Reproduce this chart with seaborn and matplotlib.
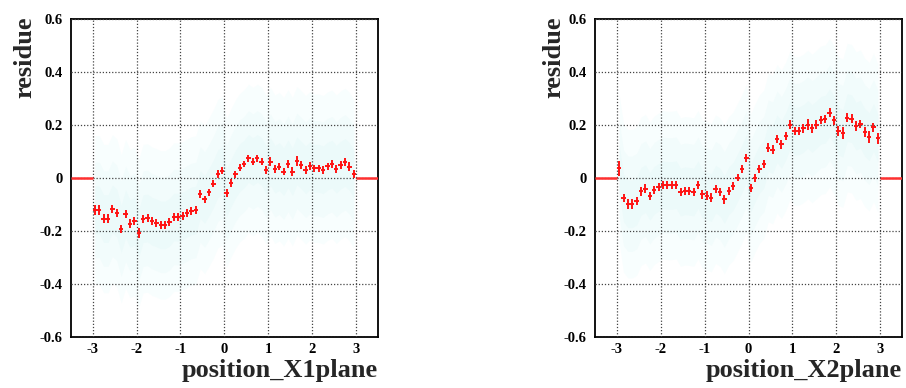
import numpy as np
import matplotlib
matplotlib.use("Agg")
import matplotlib.pyplot as plt
import seaborn as sns
import pandas as pd
from matplotlib.ticker import MultipleLocator

# ---------------- data ----------------
x_min, x_max, n_bins = -3.5, 3.5, 70
filled_lo, filled_hi = -3.0, 3.0

residue_X1 = [-0.122, -0.122, -0.155, -0.155, -0.118, -0.134, -0.194, -0.137, -0.174, -0.165,
              -0.210, -0.155, -0.153, -0.165, -0.171, -0.179, -0.179, -0.169, -0.149, -0.150,
              -0.145, -0.135, -0.126, -0.123, -0.064, -0.083, -0.055, -0.024, 0.014, 0.026,
              -0.058, -0.021, 0.012, 0.037, 0.051, 0.072, 0.060, 0.072, 0.060, 0.029,
              0.060, 0.031, 0.041, 0.022, 0.051, 0.022, 0.063, 0.047, 0.029, 0.045,
              0.035, 0.035, 0.029, 0.043, 0.050, 0.031, 0.047, 0.057, 0.041, 0.012]
error_X1 = [0.020, 0.018, 0.018, 0.018, 0.016, 0.015, 0.016, 0.015, 0.016, 0.015,
            0.020, 0.015, 0.016, 0.015, 0.015, 0.016, 0.015, 0.015, 0.015, 0.015,
            0.015, 0.015, 0.015, 0.015, 0.015, 0.015, 0.013, 0.013, 0.015, 0.013,
            0.015, 0.015, 0.013, 0.013, 0.013, 0.013, 0.013, 0.013, 0.013, 0.015,
            0.016, 0.015, 0.013, 0.013, 0.015, 0.016, 0.018, 0.015, 0.015, 0.015,
            0.013, 0.013, 0.015, 0.013, 0.016, 0.015, 0.016, 0.015, 0.016, 0.015]

residue_X2 = [0.035, -0.077, -0.099, -0.099, -0.089, -0.052, -0.042, -0.071, -0.048, -0.037,
              -0.027, -0.030, -0.030, -0.027, -0.055, -0.050, -0.052, -0.055, -0.027, -0.064,
              -0.068, -0.076, -0.044, -0.055, -0.083, -0.050, -0.033, 0.000, 0.033, 0.072,
              -0.040, -0.002, 0.032, 0.050, 0.113, 0.105, 0.146, 0.125, 0.156, 0.200,
              0.175, 0.176, 0.185, 0.200, 0.185, 0.200, 0.216, 0.220, 0.245, 0.216,
              0.175, 0.167, 0.226, 0.222, 0.194, 0.201, 0.170, 0.154, 0.189, 0.148]
error_X2 = [0.028, 0.016, 0.018, 0.018, 0.015, 0.016, 0.018, 0.015, 0.016, 0.015,
            0.015, 0.015, 0.015, 0.015, 0.016, 0.016, 0.015, 0.015, 0.015, 0.016,
            0.016, 0.016, 0.016, 0.016, 0.016, 0.016, 0.015, 0.015, 0.015, 0.015,
            0.015, 0.015, 0.015, 0.015, 0.016, 0.016, 0.016, 0.016, 0.016, 0.016,
            0.016, 0.016, 0.016, 0.019, 0.016, 0.016, 0.015, 0.015, 0.018, 0.016,
            0.020, 0.023, 0.018, 0.016, 0.018, 0.015, 0.019, 0.023, 0.018, 0.021]

x_titles = ["position_X1plane", "position_X2plane"]
y_title = "residue"
x_ticklabels = ["-3", "-2", "-1", "0", "1", "2", "3"]
y_ticklabels = ["-0.6", "-0.4", "-0.2", "0", "0.2", "0.4", "0.6"]

# bin centres of the filled bins (width = (x_max - x_min)/n_bins)
bin_w = (x_max - x_min) / n_bins
n_filled = int(round((filled_hi - filled_lo) / bin_w))
centers = filled_lo + bin_w * (np.arange(n_filled) + 0.5)

# ---------------- style ----------------
sns.set_theme(style="white")
plt.rcParams["font.family"] = ["Liberation Serif", "DejaVu Serif"]
plt.rcParams["font.weight"] = "bold"

W, H = 906, 388
fig = plt.figure(figsize=(W / 100, H / 100), dpi=100)

panels = [
    (residue_X1, error_X1, x_titles[0], (70.7, 378.0), 25),
    (residue_X2, error_X2, x_titles[1], (595.0, 902.0), 554),
]
top_px, bot_px = 18.5, 336.5
red = "#ff1414"

for vals, errs, xt, (l, r), ylab_x in panels:
    ax = fig.add_axes([l / W, 1 - bot_px / H, (r - l) / W, (bot_px - top_px) / H])
    df = pd.DataFrame({"pos": centers, "res": vals, "err": errs})

    # faint cloud of individual entries (very pale cyan band around the profile)
    for half, col in [(0.28, "#f8fefe"), (0.18, "#f2fcfc"), (0.09, "#ecfafa")]:
        ax.fill_between(df["pos"], df["res"] - half, df["res"] + half,
                        color=col, lw=0, zorder=0)

    # empty bins drawn at zero
    ax.hlines(0, x_min, filled_lo, color="#ff3030", lw=1.8, zorder=3)
    ax.hlines(0, filled_hi, x_max, color="#ff3030", lw=1.8, zorder=3)

    ax.errorbar(df["pos"], df["res"], yerr=df["err"], xerr=bin_w / 2,
                fmt="none", ecolor=red, elinewidth=1.4, capsize=0, zorder=4)
    sns.scatterplot(data=df, x="pos", y="res", ax=ax, s=1, color=red,
                    linewidth=0, zorder=5, legend=False)

    ax.set_xlim(x_min, x_max)
    ax.set_ylim(-0.6, 0.6)
    ax.set_xlabel("")
    ax.set_ylabel("")
    ax.set_xticks([-3, -2, -1, 0, 1, 2, 3])
    ax.set_xticklabels(x_ticklabels)
    ax.set_yticks(np.arange(-0.6, 0.61, 0.2))
    ax.set_yticklabels(y_ticklabels)
    ax.xaxis.set_minor_locator(MultipleLocator(0.2))
    ax.yaxis.set_minor_locator(MultipleLocator(0.05))

    ax.tick_params(axis="both", which="major", direction="in", length=7, width=1,
                   colors="black", labelsize=10.5, top=False, right=False)
    ax.tick_params(axis="both", which="minor", direction="in", length=3.5, width=1,
                   top=False, right=False)
    ax.tick_params(axis="y", pad=6)
    ax.tick_params(axis="x", pad=5)
    for lab in ax.get_xticklabels() + ax.get_yticklabels():
        lab.set_fontweight("bold")

    ax.grid(True, which="major", color="#444444", linestyle=(0, (1, 1.5)), lw=0.9)
    ax.set_axisbelow(False)
    for sp in ax.spines.values():
        sp.set_visible(True)
        sp.set_color("black")
        sp.set_linewidth(1.3)

    fig.text(ylab_x / W, 1 - 16 / H, y_title, rotation=90, ha="center", va="top",
             fontsize=19, fontweight="bold")
    fig.text(r / W, 1 - 377 / H, xt, ha="right", va="baseline",
             fontsize=19, fontweight="bold")

fig.savefig("out.png", dpi=100)
